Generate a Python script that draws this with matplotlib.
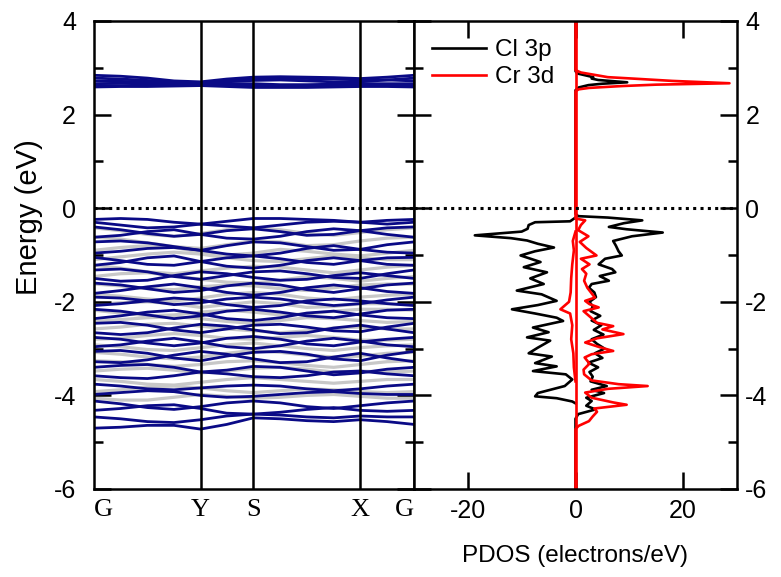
import matplotlib
matplotlib.use("Agg")
import matplotlib.pyplot as plt

plt.rcParams['font.family'] = ['Liberation Sans', 'DejaVu Sans']
plt.rcParams['axes.unicode_minus'] = False

# k-path sampling (G-Y-S-X-G), fractional distance along the path
k_path = [0.0, 0.083, 0.167, 0.250, 0.333, 0.415, 0.498, 0.582, 0.665, 0.749, 0.832, 0.916, 1.0]
k_ticks = [0.0, 0.333, 0.498, 0.832, 1.0]
k_labels = ['G', 'Y', 'S', 'X', 'G']

# spin-up bands (eV)
bands_up = [
    [-0.24, -0.22, -0.24, -0.30, -0.34, -0.28, -0.22, -0.22, -0.24, -0.26, -0.30, -0.26, -0.24],
    [-0.30, -0.36, -0.42, -0.40, -0.34, -0.38, -0.42, -0.36, -0.30, -0.28, -0.30, -0.34, -0.30],
    [-0.40, -0.46, -0.54, -0.60, -0.56, -0.48, -0.44, -0.50, -0.58, -0.56, -0.48, -0.42, -0.40],
    [-0.62, -0.58, -0.50, -0.46, -0.56, -0.64, -0.66, -0.60, -0.50, -0.44, -0.48, -0.56, -0.62],
    [-0.72, -0.70, -0.74, -0.82, -0.90, -0.80, -0.72, -0.74, -0.82, -0.90, -0.88, -0.78, -0.72],
    [-0.96, -0.92, -0.86, -0.84, -0.90, -0.98, -1.02, -0.96, -0.86, -0.80, -0.88, -0.94, -0.96],
    [-1.05, -1.12, -1.20, -1.22, -1.14, -1.06, -1.02, -1.08, -1.16, -1.20, -1.12, -1.06, -1.05],
    [-1.22, -1.16, -1.06, -1.02, -1.14, -1.24, -1.28, -1.22, -1.12, -1.06, -1.12, -1.20, -1.22],
    [-1.32, -1.30, -1.36, -1.46, -1.52, -1.44, -1.36, -1.34, -1.40, -1.48, -1.50, -1.40, -1.32],
    [-1.50, -1.56, -1.54, -1.44, -1.36, -1.40, -1.48, -1.54, -1.52, -1.44, -1.38, -1.44, -1.50],
    [-1.60, -1.64, -1.72, -1.80, -1.76, -1.66, -1.60, -1.64, -1.74, -1.80, -1.72, -1.64, -1.60],
    [-1.82, -1.76, -1.68, -1.62, -1.70, -1.80, -1.86, -1.80, -1.70, -1.64, -1.70, -1.78, -1.82],
    [-1.90, -1.92, -1.98, -2.06, -2.02, -1.94, -1.90, -1.94, -2.02, -2.08, -2.04, -1.96, -1.90],
    [-2.08, -2.04, -1.98, -1.92, -1.96, -2.06, -2.12, -2.08, -1.98, -1.94, -1.98, -2.04, -2.08],
    [-2.16, -2.20, -2.28, -2.36, -2.30, -2.20, -2.16, -2.22, -2.30, -2.34, -2.26, -2.18, -2.16],
    [-2.36, -2.30, -2.22, -2.18, -2.26, -2.36, -2.40, -2.34, -2.24, -2.20, -2.28, -2.34, -2.36],
    [-2.46, -2.44, -2.50, -2.60, -2.66, -2.58, -2.50, -2.48, -2.54, -2.62, -2.64, -2.54, -2.46],
    [-2.66, -2.70, -2.66, -2.56, -2.48, -2.52, -2.60, -2.68, -2.66, -2.56, -2.50, -2.58, -2.66],
    [-2.76, -2.80, -2.88, -2.94, -2.88, -2.78, -2.74, -2.80, -2.90, -2.94, -2.86, -2.80, -2.76],
    [-2.96, -2.92, -2.84, -2.78, -2.86, -2.96, -3.00, -2.94, -2.84, -2.78, -2.84, -2.92, -2.96],
    [-3.06, -3.04, -3.10, -3.20, -3.26, -3.16, -3.08, -3.06, -3.12, -3.22, -3.26, -3.14, -3.06],
    [-3.28, -3.30, -3.24, -3.14, -3.06, -3.12, -3.22, -3.30, -3.28, -3.18, -3.10, -3.20, -3.28],
    [-3.40, -3.36, -3.34, -3.40, -3.50, -3.46, -3.38, -3.40, -3.48, -3.56, -3.52, -3.44, -3.40],
    [-3.58, -3.62, -3.64, -3.58, -3.50, -3.54, -3.60, -3.62, -3.58, -3.50, -3.48, -3.54, -3.58],
    [-3.76, -3.80, -3.86, -3.88, -3.84, -3.80, -3.78, -3.80, -3.86, -3.90, -3.86, -3.80, -3.76],
    [-3.98, -3.94, -3.90, -3.92, -4.00, -4.04, -4.02, -3.98, -3.94, -3.92, -3.96, -3.98, -3.98],
    [-4.12, -4.18, -4.26, -4.30, -4.24, -4.16, -4.12, -4.16, -4.24, -4.28, -4.22, -4.16, -4.12],
    [-4.32, -4.28, -4.22, -4.20, -4.28, -4.38, -4.40, -4.36, -4.30, -4.26, -4.32, -4.34, -4.32],
    [-4.46, -4.50, -4.56, -4.58, -4.52, -4.44, -4.40, -4.42, -4.46, -4.48, -4.44, -4.46, -4.46],
    [-4.70, -4.68, -4.64, -4.64, -4.72, -4.62, -4.48, -4.50, -4.54, -4.56, -4.52, -4.56, -4.62],
    [2.84, 2.82, 2.78, 2.72, 2.70, 2.76, 2.80, 2.81, 2.80, 2.79, 2.77, 2.80, 2.84],
    [2.78, 2.76, 2.73, 2.70, 2.68, 2.72, 2.76, 2.77, 2.77, 2.76, 2.74, 2.74, 2.78],
    [2.72, 2.71, 2.70, 2.68, 2.66, 2.70, 2.73, 2.74, 2.72, 2.70, 2.70, 2.74, 2.72],
    [2.66, 2.67, 2.68, 2.67, 2.64, 2.66, 2.66, 2.64, 2.64, 2.65, 2.66, 2.66, 2.66],
    [2.62, 2.62, 2.63, 2.64, 2.63, 2.62, 2.61, 2.60, 2.60, 2.61, 2.62, 2.62, 2.62],
    [2.59, 2.60, 2.60, 2.61, 2.62, 2.60, 2.58, 2.58, 2.58, 2.59, 2.60, 2.60, 2.59],
]

# spin-down bands (eV)
bands_dn = [
    [-0.42, -0.48, -0.56, -0.60, -0.54, -0.46, -0.42, -0.46, -0.54, -0.58, -0.52, -0.46, -0.42],
    [-0.62, -0.66, -0.74, -0.82, -0.86, -0.78, -0.70, -0.72, -0.80, -0.78, -0.70, -0.64, -0.62],
    [-0.90, -0.84, -0.80, -0.84, -0.94, -1.00, -0.96, -0.88, -0.92, -0.98, -1.02, -0.96, -0.90],
    [-1.10, -1.04, -0.98, -0.94, -0.98, -1.06, -1.12, -1.14, -1.08, -1.02, -1.06, -1.10, -1.10],
    [-1.22, -1.28, -1.36, -1.40, -1.34, -1.28, -1.24, -1.26, -1.32, -1.38, -1.32, -1.26, -1.22],
    [-1.46, -1.40, -1.38, -1.44, -1.52, -1.58, -1.60, -1.54, -1.46, -1.50, -1.56, -1.50, -1.46],
    [-1.62, -1.66, -1.72, -1.74, -1.68, -1.64, -1.66, -1.72, -1.76, -1.70, -1.64, -1.62, -1.62],
    [-1.84, -1.88, -1.94, -1.98, -1.92, -1.84, -1.80, -1.84, -1.92, -1.96, -1.90, -1.86, -1.84],
    [-2.06, -2.02, -2.00, -2.04, -2.12, -2.06, -2.00, -2.04, -2.12, -2.10, -2.04, -2.04, -2.06],
    [-2.18, -2.24, -2.30, -2.28, -2.22, -2.18, -2.22, -2.28, -2.26, -2.20, -2.16, -2.16, -2.18],
    [-2.42, -2.38, -2.34, -2.32, -2.36, -2.42, -2.46, -2.40, -2.34, -2.36, -2.40, -2.44, -2.42],
    [-2.58, -2.54, -2.48, -2.46, -2.52, -2.58, -2.62, -2.66, -2.62, -2.56, -2.54, -2.58, -2.58],
    [-2.80, -2.78, -2.72, -2.68, -2.72, -2.78, -2.80, -2.76, -2.72, -2.76, -2.82, -2.82, -2.80],
    [-2.92, -2.96, -3.02, -3.04, -2.98, -2.92, -2.88, -2.94, -3.00, -3.04, -2.98, -2.94, -2.92],
    [-3.08, -3.12, -3.18, -3.22, -3.18, -3.10, -3.04, -3.08, -3.14, -3.18, -3.16, -3.10, -3.08],
    [-3.26, -3.28, -3.34, -3.38, -3.34, -3.28, -3.26, -3.30, -3.36, -3.40, -3.34, -3.28, -3.26],
    [-3.48, -3.44, -3.42, -3.46, -3.52, -3.48, -3.42, -3.40, -3.44, -3.50, -3.48, -3.50, -3.48],
    [-3.66, -3.70, -3.76, -3.78, -3.72, -3.66, -3.62, -3.66, -3.70, -3.74, -3.70, -3.66, -3.66],
    [-3.92, -3.88, -3.82, -3.80, -3.84, -3.90, -3.94, -3.90, -3.86, -3.88, -3.92, -3.94, -3.92],
    [-4.06, -4.10, -4.10, -4.04, -3.98, -4.02, -4.06, -4.04, -4.00, -3.98, -4.02, -4.06, -4.06],
]

# projected DOS, energies (eV) and states/eV; spin-down is negative
cl_up_e = [4.0, 2.93, 2.88, 2.80, 2.77, 2.74, 2.69, 2.66, 2.63, 2.58, 2.52, -0.12, -0.17, -0.20,
           -0.26, -0.32, -0.40, -0.45, -0.52, -0.60, -0.70, -0.80, -0.92, -1.01, -1.08, -1.20,
           -1.30, -1.37, -1.45, -1.55, -1.62, -1.70, -1.80, -1.90, -2.00, -2.10, -2.20, -2.30,
           -2.40, -2.50, -2.60, -2.70, -2.80, -2.90, -3.00, -3.10, -3.20, -3.30, -3.40, -3.50,
           -3.60, -3.70, -3.80, -3.88, -3.95, -4.05, -4.12, -4.22, -4.30, -4.40, -4.50, -6.0]
cl_up = [0, 0, 0.3, 3.3, 3.0, 4.2, 9.6, 5.0, 2.4, 0.6, 0, 0, 0.5, 6.0,
         12.4, 9.0, 6.2, 9.5, 16.2, 10.5, 7.0, 7.5, 8.0, 8.6, 5.5, 4.3,
         6.8, 7.4, 4.5, 6.2, 3.0, 2.5, 3.5, 3.8, 2.6, 3.2, 2.8, 4.6,
         3.0, 4.8, 3.4, 5.2, 3.0, 4.0, 5.4, 3.6, 5.0, 2.4, 4.2, 2.6,
         3.2, 2.8, 5.8, 3.0, 5.3, 2.0, 3.0, 2.0, 3.7, 0.5, 0, 0]

cl_dn_e = [-0.20, -0.28, -0.30, -0.36, -0.44, -0.50, -0.58, -0.64, -0.69, -0.76, -0.84, -0.92,
           -1.01, -1.15, -1.26, -1.37, -1.50, -1.62, -1.76, -1.84, -1.98, -2.07, -2.16, -2.25,
           -2.34, -2.41, -2.55, -2.65, -2.76, -2.83, -2.98, -3.10, -3.17, -3.31, -3.38, -3.48,
           -3.55, -3.66, -3.80, -3.95, -4.02, -4.06, -4.13, -4.17]
cl_dn = [0, -1.0, -7.5, -8.7, -8.9, -10.0, -18.7, -12.0, -9.0, -7.0, -4.0, -7.5,
         -10.2, -6.5, -9.6, -5.3, -8.4, -5.9, -10.9, -6.3, -3.5, -7.0, -11.8, -7.5,
         -3.5, -2.3, -7.9, -5.0, -9.0, -4.7, -7.0, -8.7, -4.4, -7.5, -3.5, -7.9,
         -1.8, -0.6, -2.0, -7.0, -7.5, -3.5, -0.6, 0]

cr_up_e = [4.0, 2.95, 2.90, 2.86, 2.80, 2.77, 2.72, 2.67, 2.64, 2.61, 2.57, 2.54, 2.50, -0.22,
           -0.26, -0.36, -0.47, -0.60, -0.72, -0.85, -1.01, -1.08, -1.20, -1.30, -1.40, -1.55,
           -1.70, -1.91, -1.98, -2.05, -2.12, -2.20, -2.30, -2.45, -2.52, -2.59, -2.69, -2.78,
           -2.87, -2.97, -3.05, -3.12, -3.19, -3.32, -3.45, -3.55, -3.68, -3.76, -3.80, -3.86,
           -3.94, -4.05, -4.15, -4.20, -4.28, -4.35, -4.45, -4.55, -4.65, -4.72, -6.0]
cr_up = [0, 0, 1.0, 3.0, 6.0, 10.6, 18.0, 28.6, 15.0, 8.6, 2.5, 0.6, 0, 0,
         1.8, 1.0, 0.5, 2.4, 0.8, 2.0, 3.9, 1.0, 2.6, 1.2, 2.0, 1.6,
         2.2, 3.6, 1.8, 2.6, 4.3, 1.5, 2.5, 4.0, 7.0, 5.0, 8.9, 4.0,
         1.8, 4.5, 7.0, 3.0, 1.7, 2.6, 1.5, 1.6, 3.0, 8.0, 13.4, 6.0,
         1.8, 3.0, 7.0, 9.5, 3.5, 4.0, 3.2, 2.5, 0.6, 0, 0]

cr_dn_e = [-0.50, -0.70, -0.90, -1.20, -1.50, -1.80, -2.00, -2.16, -2.25, -2.50, -2.80, -3.10, -3.40, -3.70]
cr_dn = [0, -0.5, -0.3, -0.6, -0.8, -0.9, -1.2, -2.8, -1.0, -0.6, -0.8, -0.4, -0.3, 0]

W, H = 781, 577
fig = plt.figure(figsize=(W / 100, H / 100), dpi=100)
ax1 = fig.add_axes([94 / W, 88 / H, 320 / W, 468 / H])
ax2 = fig.add_axes([414 / W, 88 / H, 323 / W, 468 / H])

navy = '#0a0a86'
grey = '#c8c8c8'
dots = (0, (1.0, 1.4))

# band structure: spin-down underneath, spin-up on top
for b in bands_dn:
    ax1.plot(k_path, b, color=grey, lw=2.3, zorder=1)
for b in bands_up:
    ax1.plot(k_path, b, color=navy, lw=2.0, zorder=2)
for k in k_ticks[1:-1]:
    ax1.axvline(k, color='black', lw=1.8, zorder=3)
ax1.axhline(0, color='black', lw=2.2, ls=dots, zorder=4)

ax1.set_xlim(0, 1)
ax1.set_ylim(-6, 4)
ax1.set_xticks(k_ticks)
ax1.set_xticklabels(k_labels, family='Liberation Serif', fontsize=19)
xl = ax1.get_xticklabels()
xl[0].set_ha('left')
xl[-1].set_ha('right')
ax1.set_yticks([-6, -4, -2, 0, 2, 4])
ax1.set_yticks([-5, -3, -1, 1, 3], minor=True)
ax1.tick_params(axis='y', which='both', direction='in', left=True, right=True,
                labelsize=18, pad=13, width=1.8)
ax1.tick_params(axis='y', which='major', length=12)
ax1.tick_params(axis='y', which='minor', length=6.5)
ax1.tick_params(axis='x', direction='in', length=0, pad=7)
ax1.set_ylabel('Energy (eV)', fontsize=21)
ax1.yaxis.set_label_coords(-0.16, 0.58)

# projected DOS
ax2.plot(cl_up, cl_up_e, color='black', lw=1.9, label='Cl 3p')
ax2.plot(cl_dn, cl_dn_e, color='black', lw=1.9)
ax2.plot(cr_up, cr_up_e, color='red', lw=1.9, label='Cr 3d')
ax2.plot(cr_dn, cr_dn_e, color='red', lw=1.9)
ax2.axvline(0, color='red', lw=1.9)
ax2.axhline(0, color='black', lw=2.2, ls=dots, zorder=4)

ax2.set_xlim(-30, 30)
ax2.set_ylim(-6, 4)
ax2.set_xticks([-20, 0, 20])
ax2.set_yticks([-6, -4, -2, 0, 2, 4])
ax2.set_yticks([-5, -3, -1, 1, 3], minor=True)
ax2.yaxis.tick_right()
ax2.tick_params(axis='y', which='both', direction='in', left=True, right=True,
                labelleft=False, labelright=True, labelsize=18, pad=6, width=1.8)
ax2.tick_params(axis='y', which='major', length=12)
ax2.tick_params(axis='y', which='minor', length=6.5)
ax2.tick_params(axis='x', direction='in', top=True, bottom=True, length=12,
                width=1.8, labelsize=18, pad=7)
ax2.set_xlabel('PDOS (electrons/eV)', fontsize=17.5, labelpad=16)

ax2.legend(loc='upper left', bbox_to_anchor=(0.0, 1.0), frameon=False,
           fontsize=17.5, handlelength=2.2, handletextpad=0.4, labelspacing=0.2,
           borderaxespad=0.35)

for ax in (ax1, ax2):
    for s in ax.spines.values():
        s.set_linewidth(1.8)

fig.savefig('out.png', dpi=100)
